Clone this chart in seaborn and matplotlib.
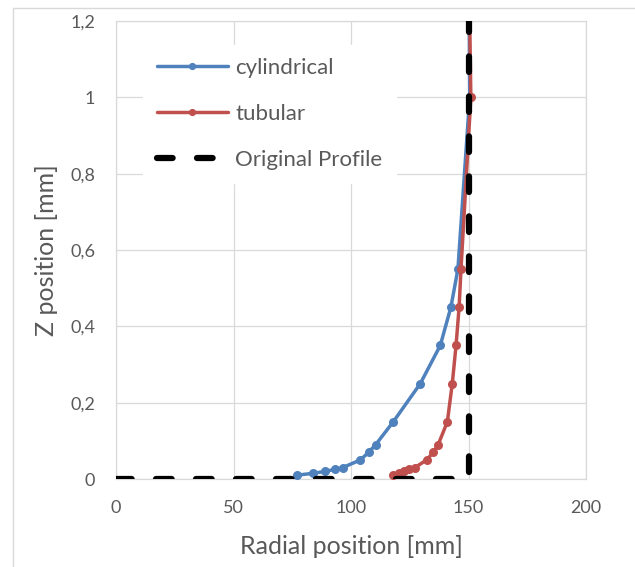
import matplotlib
matplotlib.use("Agg")
import matplotlib.pyplot as plt
from matplotlib.lines import Line2D
import seaborn as sns
import pandas as pd

# ---- data ----
z_pos = [0.01, 0.015, 0.02, 0.025, 0.03, 0.05, 0.07, 0.09, 0.15, 0.25, 0.35, 0.45, 0.55, 1.0, 1.5]
cyl_x = [77, 84, 89, 93, 96.5, 104, 107.5, 110.5, 118, 129.5, 138, 142.5, 145.5, 150.5, 150.0]
tub_x = [118, 120.5, 122.7, 124.8, 127.2, 132.2, 135, 137.1, 141, 143.1, 144.7, 146, 146.8, 151.0, 149.8]
orig_x = [0, 150, 150]
orig_z = [0, 0, 1.2]
x_ticks = [0, 50, 100, 150, 200]
y_ticks = [0, 0.2, 0.4, 0.6, 0.8, 1.0, 1.2]
y_tick_labels = ["0", "0,2", "0,4", "0,6", "0,8", "1", "1,2"]

sns.set_theme(style="white")
plt.rcParams["font.family"] = ["Lato", "DejaVu Sans"]

TXT = "#595959"
GRID = "#d9d9d9"
BLUE = "#4F81BD"
RED = "#C0504D"
DASH = (2.5, 3.9)

fig = plt.figure(figsize=(6.35, 5.67), dpi=100)
ax = fig.add_axes([116 / 635, 1 - 479 / 567, 470 / 635, 458 / 567])

df_cyl = pd.DataFrame({"x": cyl_x, "z": z_pos})
df_tub = pd.DataFrame({"x": tub_x, "z": z_pos})
df_orig = pd.DataFrame({"x": orig_x, "z": orig_z})

sns.lineplot(data=df_cyl, x="x", y="z", sort=False, estimator=None, ax=ax, color=BLUE,
             linewidth=2.5, marker="o", markersize=6.5, markeredgewidth=0,
             label="cylindrical", zorder=3)
sns.lineplot(data=df_tub, x="x", y="z", sort=False, estimator=None, ax=ax, color=RED,
             linewidth=2.5, marker="o", markersize=6.5, markeredgewidth=0,
             label="tubular", zorder=4)
sns.lineplot(data=df_orig, x="x", y="z", sort=False, estimator=None, ax=ax, color="black",
             linewidth=4.5, label="Original Profile", zorder=5)
orig_line = ax.get_lines()[-1]
orig_line.set_dashes(DASH)
orig_line.set_dash_capstyle("round")

ax.set_xlim(0, 200)
ax.set_ylim(0, 1.2)
ax.set_xticks(x_ticks)
ax.set_xticklabels([str(t) for t in x_ticks])
ax.set_yticks(y_ticks)
ax.set_yticklabels(y_tick_labels)
ax.grid(True, color=GRID, linewidth=0.9)
ax.set_axisbelow(True)
for s in ax.spines.values():
    s.set_color(GRID)
    s.set_linewidth(0.9)
ax.tick_params(axis="both", length=0, labelsize=13, colors=TXT)
ax.tick_params(axis="x", pad=15)
ax.tick_params(axis="y", pad=15)
ax.set_xlabel("Radial position [mm]", fontsize=18, color=TXT, labelpad=14)
ax.set_ylabel("Z position [mm]", fontsize=18, color=TXT, labelpad=9)

leg = ax.legend(loc="upper left", bbox_to_anchor=(0.058, 0.948), borderaxespad=0,
                fontsize=16, handlelength=3.2, labelspacing=1.17, handletextpad=0.35,
                frameon=True, fancybox=False, borderpad=0.6, markerscale=0.8)
leg.get_frame().set_facecolor("white")
leg.get_frame().set_edgecolor("white")
leg.get_frame().set_alpha(1)
for t in leg.get_texts():
    t.set_color(TXT)
for h in leg.get_lines():
    if h.get_color() == "black":
        h.set_dashes(DASH)
        h.set_dash_capstyle("round")

# chart-area border (top and left visible)
fig.add_artist(Line2D([13 / 635, 1.0], [1 - 8 / 567, 1 - 8 / 567], transform=fig.transFigure,
                      color=GRID, linewidth=1.0))
fig.add_artist(Line2D([13 / 635, 13 / 635], [0.0, 1 - 8 / 567], transform=fig.transFigure,
                      color=GRID, linewidth=1.0))

fig.savefig("out.png", dpi=100, facecolor="white")
